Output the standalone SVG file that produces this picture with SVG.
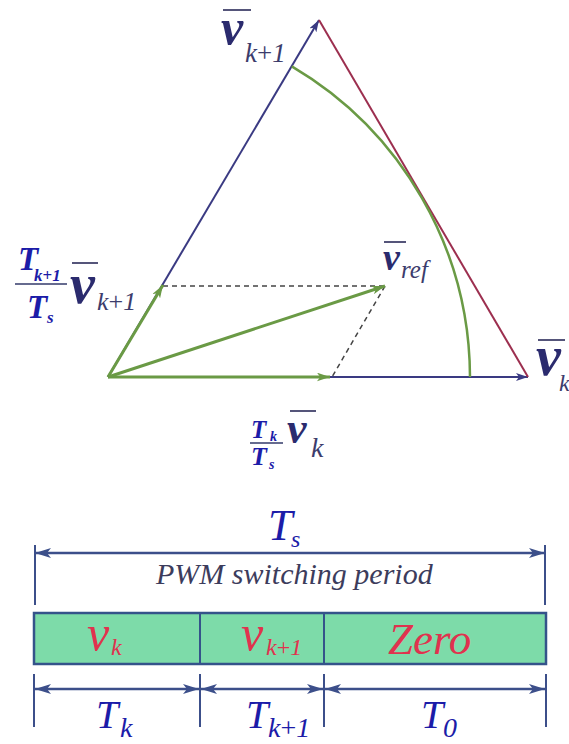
<svg xmlns="http://www.w3.org/2000/svg" width="569" height="744" viewBox="0 0 569 744">
<defs>
<marker id="mNavy" viewBox="0 0 12 8" refX="12" refY="4" markerWidth="12" markerHeight="8" markerUnits="userSpaceOnUse" orient="auto"><path d="M0,0 L12,4 L0,8 L3,4 z" fill="#3a3a82"/></marker>
<marker id="mGreen" viewBox="0 0 12 8" refX="12" refY="4" markerWidth="13" markerHeight="9" markerUnits="userSpaceOnUse" orient="auto"><path d="M0,0 L12,4 L0,8 L3,4 z" fill="#6a9a45"/></marker>
<marker id="mDimEnd" viewBox="0 0 16 10" refX="16" refY="5" markerWidth="16" markerHeight="10" markerUnits="userSpaceOnUse" orient="auto"><path d="M0,0 L16,5 L0,10 L4,5 z" fill="#3c4f8a"/></marker>
<marker id="mDimStart" viewBox="0 0 16 10" refX="0" refY="5" markerWidth="16" markerHeight="10" markerUnits="userSpaceOnUse" orient="auto"><path d="M16,0 L0,5 L16,10 L12,5 z" fill="#3c4f8a"/></marker>
</defs>
<rect width="569" height="744" fill="#ffffff"/>

<g id="connectors" fill="none">
<line stroke="#3a3a82" stroke-width="2" x1="108" y1="377" x2="528" y2="377" marker-end="url(#mNavy)"/>
<line stroke="#3a3a82" stroke-width="2" x1="108" y1="377" x2="319" y2="20" marker-end="url(#mNavy)"/>
<line x1="319" y1="20" x2="528" y2="377" stroke="#9c2f4f" stroke-width="2"/>
<path stroke="#6a9a45" stroke-width="2.5" d="M291.8,66.3 A362,362 0 0,1 470,377"/>
<g stroke="#444" stroke-width="1.5" stroke-dasharray="5 4">
<line x1="163" y1="286" x2="385" y2="286"/>
<line x1="385" y1="286" x2="332" y2="377"/>
</g>
<g stroke="#6a9a45" stroke-width="3">
<line x1="108" y1="377" x2="330" y2="377" marker-end="url(#mGreen)"/>
<line x1="108" y1="377" x2="163" y2="285" marker-end="url(#mGreen)"/>
<line x1="108" y1="377" x2="385" y2="286" marker-end="url(#mGreen)"/>
</g>
</g>

<g id="label-vk1">
<text font-family="Liberation Serif" fill="#3c3c6c" x="245" y="62" font-size="27"><tspan font-style="italic">k</tspan>+<tspan font-style="italic">1</tspan></text>
<line stroke="#55557a" stroke-width="2" x1="223" y1="10" x2="251" y2="10"/>
<text font-family="Liberation Serif" font-style="italic" font-weight="bold" fill="#2b2b6e" x="221" y="44" font-size="50">v</text>
</g>

<g id="label-left">
<text font-family="Liberation Serif" font-style="italic" font-weight="bold" fill="#1c1ca8" x="18" y="270" font-size="33">T</text>
<text font-family="Liberation Serif" font-weight="bold" fill="#1c1ca8" x="34" y="281" font-size="17"><tspan font-style="italic">k</tspan>+<tspan font-style="italic">1</tspan></text>
<line x1="15" y1="284" x2="67" y2="284" stroke="#333a6a" stroke-width="1.5"/>
<text font-family="Liberation Serif" font-style="italic" font-weight="bold" fill="#1c1ca8" x="27" y="318" font-size="33">T</text>
<text font-family="Liberation Serif" font-style="italic" font-weight="bold" fill="#1c1ca8" x="47" y="323" font-size="17">s</text>
<line stroke="#55557a" stroke-width="2" x1="72" y1="263" x2="98" y2="263"/>
<text font-family="Liberation Serif" font-style="italic" font-weight="bold" fill="#2b2b6e" x="70" y="303" font-size="56">v</text>
<text font-family="Liberation Serif" fill="#3c3c6c" x="97" y="310" font-size="26"><tspan font-style="italic">k</tspan>+<tspan font-style="italic">1</tspan></text>
</g>

<g id="label-vref">
<line stroke="#55557a" stroke-width="2" x1="384" y1="242" x2="406" y2="242"/>
<text font-family="Liberation Serif" font-style="italic" font-weight="bold" fill="#2b2b6e" x="383" y="270" font-size="38">v</text>
<text font-family="Liberation Serif" font-style="italic" fill="#3c3c6c" x="401" y="278" font-size="25">ref</text>
</g>

<g id="label-vk">
<line stroke="#55557a" stroke-width="2" x1="538" y1="340" x2="565" y2="340"/>
<text font-family="Liberation Serif" font-style="italic" font-weight="bold" fill="#2b2b6e" x="536" y="375" font-size="56">v</text>
<text font-family="Liberation Serif" font-style="italic" fill="#3c3c6c" x="559" y="391" font-size="24">k</text>
</g>

<g id="label-bottom-frac">
<text font-family="Liberation Serif" font-style="italic" font-weight="bold" fill="#1c1ca8" x="251" y="438" font-size="25">T</text>
<text font-family="Liberation Serif" font-style="italic" font-weight="bold" fill="#1c1ca8" x="270" y="441" font-size="14">k</text>
<line x1="250" y1="443" x2="283" y2="443" stroke="#333a6a" stroke-width="1.5"/>
<text font-family="Liberation Serif" font-style="italic" font-weight="bold" fill="#1c1ca8" x="251" y="465" font-size="26">T</text>
<text font-family="Liberation Serif" font-style="italic" font-weight="bold" fill="#1c1ca8" x="269" y="469" font-size="14">s</text>
<line stroke="#55557a" stroke-width="2" x1="290" y1="411" x2="316" y2="411"/>
<text font-family="Liberation Serif" font-style="italic" font-weight="bold" fill="#2b2b6e" x="287" y="443" font-size="44">v</text>
<text font-family="Liberation Serif" font-style="italic" fill="#3c3c6c" x="311" y="457" font-size="28">k</text>
</g>

<g id="period">
<text font-family="Liberation Serif" font-style="italic" fill="#1c1ca8" x="268" y="540" font-size="44">T</text>
<text font-family="Liberation Serif" font-style="italic" fill="#1c1ca8" x="291" y="547" font-size="24">s</text>
<line stroke="#3c4f8a" stroke-width="2.5" x1="35" y1="553" x2="545" y2="553" marker-start="url(#mDimStart)" marker-end="url(#mDimEnd)"/>
<line stroke="#3c4f8a" stroke-width="2" x1="35" y1="545" x2="35" y2="605"/>
<line stroke="#3c4f8a" stroke-width="2" x1="545" y1="545" x2="545" y2="605"/>
<text font-family="Liberation Serif" font-style="italic" fill="#3c3c5c" x="156" y="584" font-size="30">PWM switching period</text>
</g>

<g id="bar">
<rect x="34" y="613" width="512" height="51" fill="#7ddba9" stroke="#34538a" stroke-width="2.5"/>
<line x1="200" y1="613" x2="200" y2="664" stroke="#34538a" stroke-width="2"/>
<line x1="324" y1="613" x2="324" y2="664" stroke="#34538a" stroke-width="2"/>
<text font-family="Liberation Serif" font-style="italic" fill="#e0324e" x="87" y="650" font-size="50">v</text>
<text font-family="Liberation Serif" font-style="italic" fill="#e0324e" x="111" y="655" font-size="24">k</text>
<text font-family="Liberation Serif" font-style="italic" fill="#e0324e" x="241" y="650" font-size="50">v</text>
<text font-family="Liberation Serif" fill="#e0324e" x="266" y="655" font-size="24"><tspan font-style="italic">k</tspan>+<tspan font-style="italic">1</tspan></text>
<text font-family="Liberation Serif" font-style="italic" fill="#e0324e" x="388" y="654" font-size="45">Zero</text>
</g>

<g id="durations" stroke="#3c4f8a">
<line stroke-width="2" x1="34" y1="674" x2="34" y2="727"/>
<line stroke-width="2" x1="200" y1="674" x2="200" y2="727"/>
<line stroke-width="2" x1="324" y1="674" x2="324" y2="727"/>
<line stroke-width="2" x1="546" y1="674" x2="546" y2="727"/>
<line stroke-width="2.5" x1="35" y1="689" x2="199" y2="689" marker-start="url(#mDimStart)" marker-end="url(#mDimEnd)"/>
<line stroke-width="2.5" x1="201" y1="689" x2="323" y2="689" marker-start="url(#mDimStart)" marker-end="url(#mDimEnd)"/>
<line stroke-width="2.5" x1="325" y1="689" x2="545" y2="689" marker-start="url(#mDimStart)" marker-end="url(#mDimEnd)"/>
</g>
<g id="duration-labels">
<text font-family="Liberation Serif" font-style="italic" fill="#1c1ca8" x="96" y="728" font-size="40">T</text>
<text font-family="Liberation Serif" font-style="italic" fill="#1c1ca8" x="120" y="737" font-size="28">k</text>
<text font-family="Liberation Serif" font-style="italic" fill="#1c1ca8" x="246" y="728" font-size="40">T</text>
<text font-family="Liberation Serif" fill="#1c1ca8" x="268" y="737" font-size="28"><tspan font-style="italic">k</tspan>+<tspan font-style="italic">1</tspan></text>
<text font-family="Liberation Serif" font-style="italic" fill="#1c1ca8" x="421" y="728" font-size="40">T</text>
<text font-family="Liberation Serif" font-style="italic" fill="#1c1ca8" x="443" y="737" font-size="28">0</text>
</g>
</svg>
